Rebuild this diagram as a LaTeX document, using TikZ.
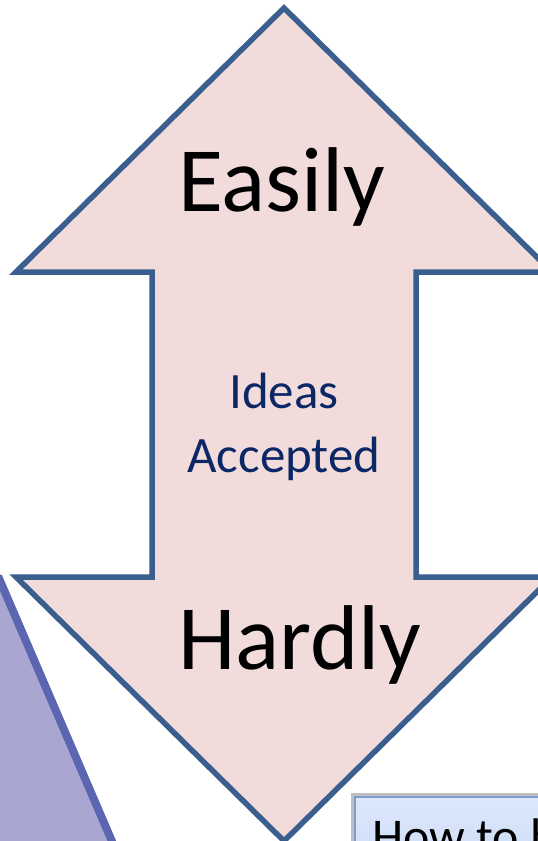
\documentclass[tikz,border=0pt]{standalone}
\usepackage{fontspec}
\setmainfont{Carlito}
\usetikzlibrary{shadings}
\definecolor{arrowfill}{HTML}{F2DCDB}
\definecolor{arrowline}{HTML}{3A5F8F}
\definecolor{navy}{HTML}{0B2766}
\definecolor{purplefill}{HTML}{A9A7D1}
\definecolor{purpleline}{HTML}{5A66B0}
\definecolor{boxtop}{HTML}{DDE8FB}
\definecolor{boxbot}{HTML}{C3D6F4}
\definecolor{boxline}{HTML}{7C9CD2}
\tikzset{
  bigword/.style={font=\fontsize{92}{110}\selectfont, text=black, inner sep=0pt, anchor=base west},
  smallword/.style={font=\fontsize{51}{62}\selectfont, text=navy, inner sep=0pt, anchor=base},
}
\begin{document}
\begin{tikzpicture}[x=1pt,y=-1pt]
\useasboundingbox (0,0) rectangle (538,841);
\begin{scope}
\clip (0,0) rectangle (538,841);
\fill[white] (0,0) rectangle (538,841);
% purple area bottom-left
\fill[purplefill] (-5,578) -- (113,846) -- (-5,846) -- cycle;
\draw[white, line width=14pt, opacity=0.7] (6,572) -- (126,846);
\draw[purpleline, line width=8pt] (-2,576) -- (114,846);
% big double arrow
\draw[arrowline, fill=arrowfill, line width=5.5pt, line join=miter]
  (284,8) -- (552,272) -- (416,272) -- (416,577) -- (552,577) -- (284,841)
  -- (16,577) -- (152,577) -- (152,272) -- (16,272) -- cycle;
% box bottom right
\fill[black!25] (351,793) rectangle (560,900);
\shade[top color=boxtop, bottom color=boxbot, draw=boxline, line width=1.5pt]
  (355,797) rectangle (560,900);
\end{scope}
\node[bigword] (easily) at (178,211) {Easily};
\node[bigword] (hardly) at (178,669) {Hardly};
\node[smallword] (ideas) at (284,408) {Ideas};
\node[smallword] (accepted) at (284,472) {Accepted};
\node[font=\fontsize{50}{60}\selectfont, inner sep=0pt, anchor=base west] (howto) at (372,853) {How to h};
\end{tikzpicture}
\end{document}
